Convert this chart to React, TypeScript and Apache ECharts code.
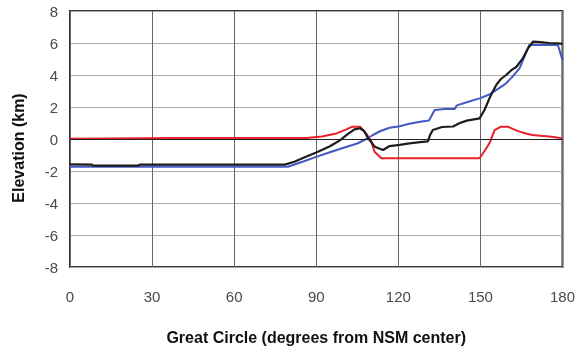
import React, { useEffect, useRef } from "react";
import * as echarts from "echarts";

const xTicks = [0, 30, 60, 90, 120, 150, 180];
const yTicks = [-8, -6, -4, -2, 0, 2, 4, 6, 8];

const blackX = [0, 8, 8.5, 25, 25.5, 78.5, 82, 86, 90, 95, 98.5, 101.5, 104, 106, 107.5, 109, 111.4, 114.4, 116.8, 120.5, 124, 128, 130.8, 131.6, 132.6, 136, 140, 142.3, 145, 149.7, 151.5, 153.3, 154.5, 155.8, 157.5, 159.4, 161.3, 163.1, 165.5, 167.5, 169.2, 172, 175, 178.3, 180];
const blackY = [-1.58, -1.6, -1.67, -1.67, -1.6, -1.6, -1.42, -1.12, -0.85, -0.45, -0.1, 0.3, 0.6, 0.67, 0.5, 0.04, -0.48, -0.69, -0.44, -0.37, -0.27, -0.2, -0.15, 0.25, 0.56, 0.75, 0.78, 0.98, 1.15, 1.29, 1.81, 2.54, 2.96, 3.38, 3.75, 4.0, 4.3, 4.5, 5.04, 5.7, 6.08, 6.05, 6.0, 5.98, 5.95];

const blueX = [0, 79.6, 85, 90, 95, 100, 105, 108.3, 110.7, 113.5, 116.8, 120.5, 124, 128, 131.2, 133.3, 137, 140.6, 141.4, 145, 149.7, 153.3, 157, 159.4, 161.5, 164.3, 166, 167.9, 178.3, 180];
const blueY = [-1.73, -1.73, -1.42, -1.12, -0.83, -0.55, -0.28, 0.0, 0.25, 0.5, 0.7, 0.8, 0.95, 1.08, 1.15, 1.81, 1.88, 1.88, 2.1, 2.3, 2.54, 2.78, 3.2, 3.48, 3.85, 4.42, 5.1, 5.88, 5.88, 4.94];

const redX = [0, 39, 86.4, 92, 97.4, 101, 103.3, 106, 108, 110, 111.3, 113.8, 149.7, 151.5, 153.3, 155.2, 157.5, 160, 162, 164.3, 167, 169, 172, 175.2, 178, 180];
const redY = [0.02, 0.07, 0.07, 0.15, 0.35, 0.6, 0.77, 0.77, 0.4, -0.1, -0.8, -1.2, -1.2, -0.75, -0.27, 0.56, 0.77, 0.77, 0.62, 0.46, 0.33, 0.25, 0.2, 0.15, 0.1, 0.04];

const zip = (xs: number[], ys: number[]) => xs.map((x, i) => [x, ys[i]]);

export default function App() {
  const ref = useRef<HTMLDivElement>(null);
  useEffect(() => {
    if (!ref.current) return;
    const chart = echarts.init(ref.current, null, { renderer: "svg" });
    const font = "Liberation Sans, Arial, sans-serif";
    chart.setOption({
      animation: false,
      grid: {
        left: 70,
        top: 11,
        right: 15,
        bottom: 84,
        show: true,
        borderColor: "#333",
        borderWidth: 2,
        backgroundColor: "transparent",
      },
      xAxis: {
        type: "value",
        min: xTicks[0],
        max: xTicks[xTicks.length - 1],
        interval: 30,
        axisLine: { show: false },
        axisTick: { show: false },
        axisLabel: { color: "#4a4a4a", fontSize: 15, fontFamily: font, margin: 22 },
        splitLine: { show: true, lineStyle: { color: "#666", width: 1 } },
        name: "Great Circle (degrees from NSM center)",
        nameLocation: "middle",
        nameGap: 62,
        nameTextStyle: { color: "#111", fontSize: 16, fontWeight: "bold", fontFamily: font },
      },
      yAxis: {
        type: "value",
        min: yTicks[0],
        max: yTicks[yTicks.length - 1],
        interval: 2,
        axisLine: { show: false },
        axisTick: { show: false },
        axisLabel: { color: "#4a4a4a", fontSize: 15, fontFamily: font, margin: 12 },
        splitLine: { show: true, lineStyle: { color: "#aaa", width: 1 } },
      },
      graphic: [
        {
          type: "text",
          x: 18,
          y: 148,
          rotation: Math.PI / 2,
          style: {
            text: "Elevation (km)",
            fill: "#111",
            font: "bold 16px Liberation Sans, Arial, sans-serif",
            textAlign: "center",
            textVerticalAlign: "middle",
          },
        },
      ],
      series: [
        {
          type: "line",
          data: zip(redX, redY),
          symbol: "none",
          lineStyle: { color: "#e8202a", width: 2 },
          markLine: {
            silent: true,
            symbol: "none",
            label: { show: false },
            lineStyle: { color: "#222", width: 1, type: "solid" },
            data: [{ yAxis: 0 }],
          },
          z: 3,
        },
        {
          type: "line",
          data: zip(blueX, blueY),
          symbol: "none",
          lineStyle: { color: "#4458c2", width: 2 },
          z: 4,
        },
        {
          type: "line",
          data: zip(blackX, blackY),
          symbol: "none",
          lineStyle: { color: "#1c1c1c", width: 2.2 },
          z: 5,
        },
      ],
    });
    return () => chart.dispose();
  }, []);
  return (
    <div
      ref={ref}
      style={{ position: "fixed", left: 0, top: 0, width: 578, height: 351 }}
    />
  );
}
